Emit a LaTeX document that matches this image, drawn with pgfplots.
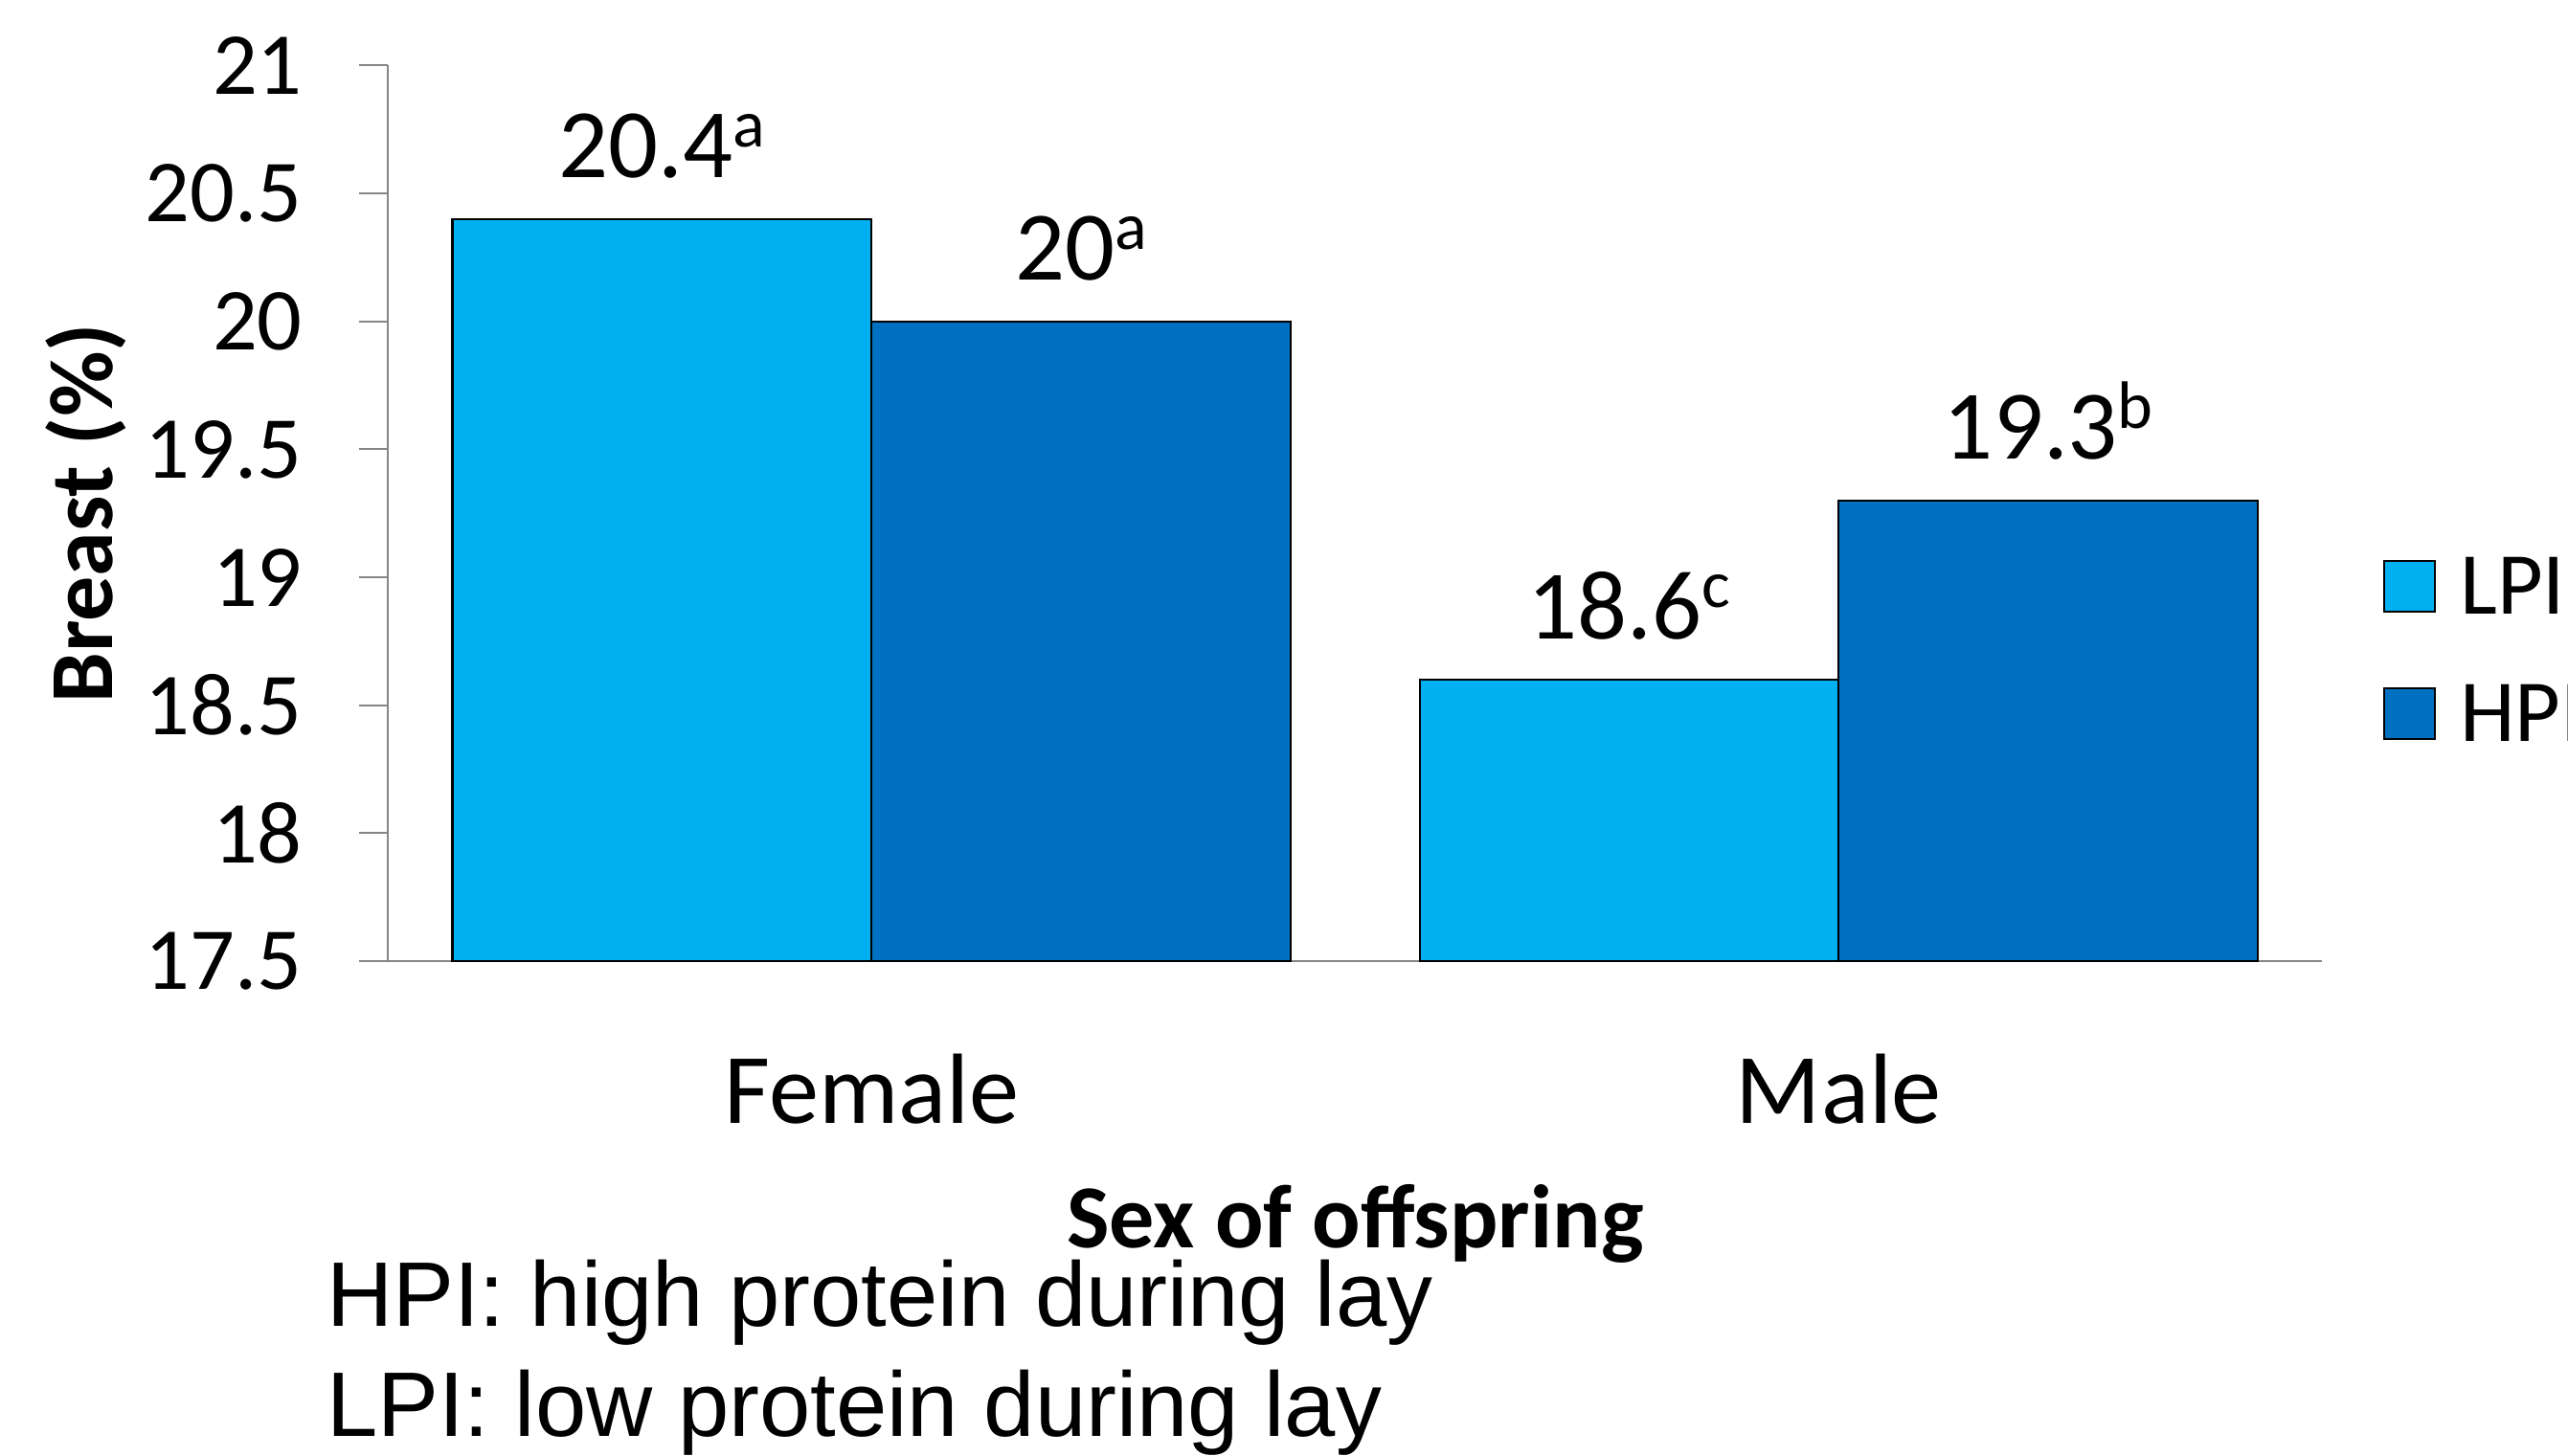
\documentclass[border=0pt]{standalone}
\usepackage{pgfplots}
\pgfplotsset{compat=1.18}
\usepackage{fontspec}
\setmainfont{Carlito}
\newfontfamily\arialf{Liberation Sans}
\definecolor{lpi}{HTML}{00B0F0}
\definecolor{hpi}{HTML}{0070C0}
\definecolor{axgray}{HTML}{868686}
\newcommand\sa[1]{\raisebox{9.5pt}{\fontsize{20.5}{20}\selectfont #1}}
\begin{document}
\begin{tikzpicture}
\useasboundingbox (-118.5pt,-151pt) rectangle (665.5pt,293.5pt);
\begin{axis}[
  at={(0pt,0pt)}, anchor=south west,
  scale only axis, width=590.5pt, height=273.5pt,
  xmin=-0.5, xmax=1.5, ymin=17.5, ymax=21,
  ybar=0pt, bar width=128pt,
  every axis plot post/.append style={
    legend image code/.code={\draw[#1, draw=black, line width=0.6pt] (0pt,-7.75pt) rectangle (15.5pt,7.75pt);}},
  ytick={17.5,18,18.5,19,19.5,20,20.5,21},
  xtick={0,1}, xticklabels={Female,Male},
  axis x line*=bottom, axis y line*=left,
  axis line style={draw=axgray, line width=0.6pt, -},
  tick align=outside, major tick length=9pt,
  ytick style={draw=axgray, line width=0.6pt},
  xtick style={draw=none},
  /pgf/number format/assume math mode=true,
  yticklabel style={font=\fontsize{27}{32}\selectfont, anchor=east, inner sep=0pt, xshift=-17pt},
  xticklabel style={font=\fontsize{30.5}{36}\selectfont, anchor=base, yshift=-40.5pt},
  ylabel={Breast (\%)},
  ylabel style={font=\bfseries\fontsize{27.5}{33}\selectfont, at={(axis description cs:-0.1425,0.5)}, anchor=base},
  xlabel={Sex of offspring},
  xlabel style={font=\bfseries\fontsize{27.5}{33}\selectfont, at={(axis description cs:0.5,-0.3199)}, anchor=base},
  nodes near coords, point meta=explicit symbolic,
  every node near coord/.append style={font=\fontsize{30}{36}\selectfont, anchor=south, inner sep=0pt, yshift=12pt, black},
  legend style={at={(1.0313,0.4497)}, anchor=north west, draw=none, fill=none, inner sep=0pt, outer sep=0pt,
    row sep=22pt, column sep=7.5pt,
    nodes={inner sep=0pt, text height=17pt, text depth=0pt, font=\fontsize{27}{32}\selectfont}},
  legend cell align=left,
]
\addplot[fill=lpi, draw=black, line width=0.6pt] coordinates {(0,20.4) [20.4\sa{a}] (1,18.6) [18.6\sa{c}]};
\addplot[fill=hpi, draw=black, line width=0.6pt] coordinates {(0,20) [20\sa{a}] (1,19.3) [19.3\sa{b}]};
\legend{LPI,HPI}
\end{axis}
\node[anchor=base west, inner sep=0pt, font=\arialf\fontsize{28}{33}\selectfont] at (-19pt,-111.4pt) {HPI: high protein during lay};
\node[anchor=base west, inner sep=0pt, font=\arialf\fontsize{28}{33}\selectfont] at (-19pt,-145.2pt) {LPI: low protein during lay};
\end{tikzpicture}
\end{document}
